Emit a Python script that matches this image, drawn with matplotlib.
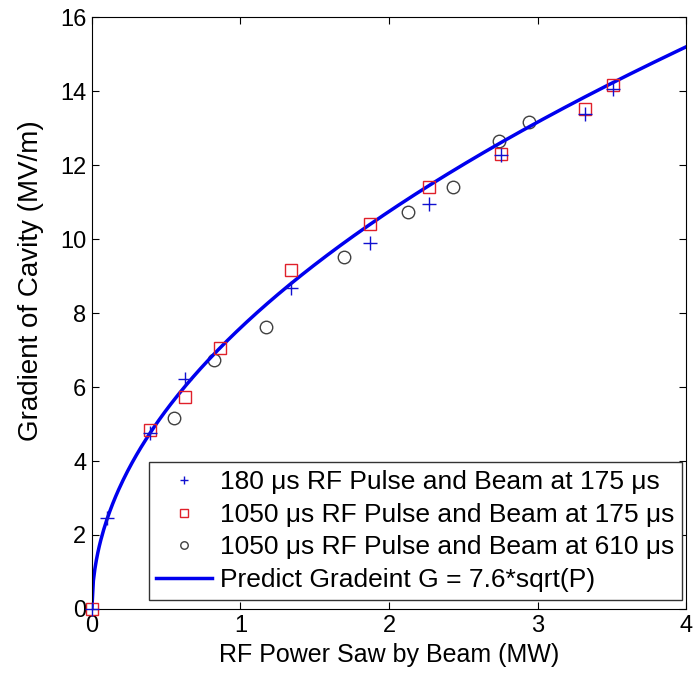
import numpy as np
import matplotlib.pyplot as plt

plt.rcParams['font.family'] = ['Liberation Sans', 'DejaVu Sans']

# 180 us RF pulse, beam at 175 us
p_180 = [0.0, 0.10, 0.39, 0.63, 1.34, 1.87, 2.27, 2.75, 3.32, 3.51]
g_180 = [0.0, 2.47, 4.76, 6.23, 8.67, 9.90, 10.95, 12.27, 13.37, 14.07]

# 1050 us RF pulse, beam at 175 us
p_1050a = [0.0, 0.39, 0.63, 0.86, 1.34, 1.87, 2.27, 2.75, 3.32, 3.51]
g_1050a = [0.0, 4.84, 5.72, 7.06, 9.16, 10.40, 11.41, 12.30, 13.51, 14.18]

# 1050 us RF pulse, beam at 610 us
p_1050b = [0.55, 0.82, 1.17, 1.70, 2.13, 2.43, 2.74, 2.94]
g_1050b = [5.15, 6.73, 7.63, 9.52, 10.72, 11.41, 12.65, 13.16]

# curva de prediccion G = 7.6*sqrt(P)
k_pred = 7.6
p_fit = np.linspace(0, 4, 400)
g_fit = k_pred * np.sqrt(p_fit)

fig = plt.figure(figsize=(6.96, 6.74), dpi=100)
ax = fig.add_axes([0.132, 0.0965, 0.854, 0.878])

ax.plot(p_180, g_180, '+', color='#1010d0', ms=10, mew=1.0, clip_on=False,
        zorder=4, label='180 \u03bcs RF Pulse and Beam at 175 \u03bcs')
ax.plot(p_1050a, g_1050a, 's', mfc='none', mec='#e0202a', ms=9, mew=1.0,
        clip_on=False, zorder=3,
        label='1050 \u03bcs RF Pulse and Beam at 175 \u03bcs')
ax.plot(p_1050b, g_1050b, 'o', mfc='none', mec='#404040', ms=9, mew=1.0,
        label='1050 \u03bcs RF Pulse and Beam at 610 \u03bcs')
ax.plot(p_fit, g_fit, '-', color='#0000ee', lw=2.5,
        label='Predict Gradeint G = 7.6*sqrt(P)')

ax.set_xlim(0, 4)
ax.set_ylim(0, 16)
ax.set_xticks([0, 1, 2, 3, 4])
ax.set_yticks(np.arange(0, 17, 2))
ax.tick_params(direction='in', top=True, right=True, labelsize=17, length=5,
               pad=4)
ax.set_xlabel('RF Power Saw by Beam (MW)', fontsize=18, labelpad=5)
ax.set_ylabel('Gradient of Cavity (MV/m)', fontsize=20)
ax.yaxis.set_label_coords(-0.08, 0.554)

leg = ax.legend(loc='lower right', bbox_to_anchor=(0.993, 0.015), fontsize=19,
                markerscale=0.6, handlelength=2.1, handletextpad=0.3,
                labelspacing=0.33, borderpad=0.3, borderaxespad=0.0,
                fancybox=False, edgecolor='#333333', framealpha=1)
leg.get_frame().set_linewidth(1.0)

fig.savefig('out.png', dpi=100)
